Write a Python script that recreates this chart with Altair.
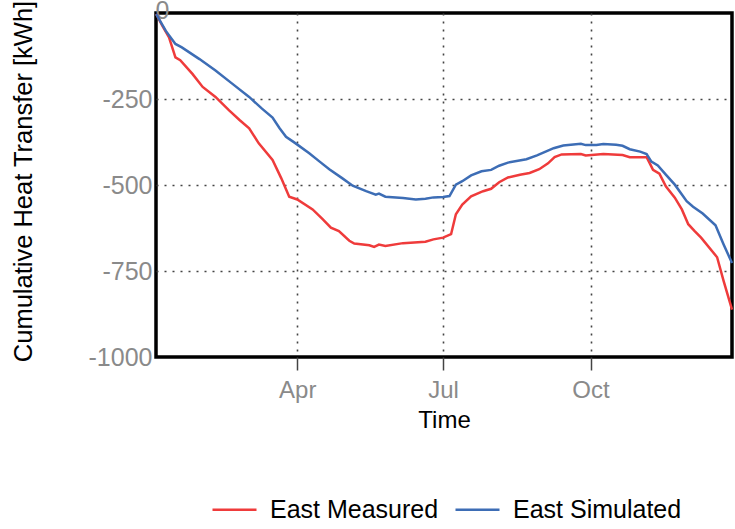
import altair as alt
import pandas as pd

# Day-of-year offsets (from 1 Jan) and cumulative heat transfer in kWh
measured_day = [2, 5.8, 10, 14, 17, 24.6, 31, 39, 47.5, 54, 60, 66, 74.6, 80, 85,
                90, 99.6, 106, 111, 116, 122.5, 125.6, 135, 138, 141, 145, 156, 170,
                175, 181, 186, 189, 193, 198.5, 206, 211, 216, 221.5, 229, 235, 241,
                246.5, 250.6, 255, 267, 270, 281, 293, 297.5, 308, 310, 312, 316, 320,
                325.6, 330, 334, 338, 342, 352, 356, 361.3]
measured_kwh = [-3, -37, -71, -129, -137, -177, -215, -244, -283, -311, -335, -379,
                -427, -480, -534, -542, -571, -600, -624, -634, -662, -670, -675, -680,
                -673, -677, -669, -665, -658, -653, -643, -585, -557, -533, -518, -511,
                -492, -478, -470, -465, -454, -437, -419, -411, -410, -414, -410, -413,
                -419, -419, -437, -456, -467, -504, -537, -571, -614, -634, -653, -710,
                -778, -862]

simulated_day = [2, 8, 14, 18, 29, 39, 49.6, 60, 68, 74.6, 79, 83, 89, 97.5, 104, 110,
                 118, 124.6, 133, 139, 141, 145, 156, 164, 170, 175, 181, 185, 189, 193,
                 198.5, 205, 211, 216, 221.5, 233, 239.6, 245, 250, 256, 267, 270, 276.7,
                 281, 289, 293, 297.5, 304, 308, 311, 315, 320, 325.6, 333, 337, 343, 351,
                 356, 361.3]
simulated_kwh = [-3, -52, -90, -100, -134, -167, -206, -244, -278, -304, -335, -360,
                 -379, -408, -432, -454, -480, -502, -518, -528, -525, -534, -538, -542,
                 -540, -536, -535, -532, -499, -489, -472, -460, -456, -444, -435, -425,
                 -414, -403, -393, -385, -380, -384, -384, -381, -383, -386, -396, -403,
                 -410, -432, -443, -470, -499, -547, -563, -583, -617, -672, -727]

series_names = ["East Measured", "East Simulated"]
series_colors = ["#EF3B3B", "#3D6DB5"]
y_ticks = [0, -250, -500, -750, -1000]
month_ticks = [4, 7, 10]

year_start = pd.Timestamp("2019-01-01")


def series_frame(days, values, name):
    return pd.DataFrame({
        "date": year_start + pd.to_timedelta(days, unit="D"),
        "kwh": values,
        "series": name,
    })


df = pd.concat([
    series_frame(measured_day, measured_kwh, series_names[0]),
    series_frame(simulated_day, simulated_kwh, series_names[1]),
], ignore_index=True)

FONT = "Liberation Sans"
LABEL_GRAY = "#8a8a8a"
GRID_GRAY = "#444444"

x_axis = alt.Axis(
    values=[alt.DateTime(year=2019, month=m, date=1) for m in month_ticks],
    format="%b",
    title="Time",
    grid=True, gridDash=[2, 6], gridColor=GRID_GRAY, gridWidth=1.6,
    domain=False,
    ticks=True, tickSize=13, tickColor=GRID_GRAY, tickWidth=1.5,
    labelFontSize=24, labelColor=LABEL_GRAY, labelPadding=8, labelFont=FONT,
    titleFontSize=24, titleColor="black", titleFontWeight="normal", titleFont=FONT,
    titleY=70, titleBaseline="alphabetic",
)

zero_test = "datum.value == 0"
y_axis = alt.Axis(
    values=y_ticks,
    labelExpr="'' + datum.value",
    title="Cumulative Heat Transfer [kWh]",
    grid=True, gridDash=[2, 6], gridColor=GRID_GRAY, gridWidth=1.6,
    gridOpacity={"condition": {"test": "datum.value == 0 || datum.value == -1000", "value": 0}, "value": 1},
    domain=False, ticks=False, tickSize=0,
    labelFontSize=25, labelColor=LABEL_GRAY, labelFont=FONT,
    labelAlign={"condition": {"test": zero_test, "value": "left"}, "value": "right"},
    labelPadding={"condition": {"test": zero_test, "value": 1}, "value": 4},
    labelOffset={"condition": {"test": zero_test, "value": -3}, "value": 0},
    titleFontSize=25.5, titleColor="black", titleFontWeight="normal", titleFont=FONT,
    titleX=-125, titleY=168, titleBaseline="alphabetic", titleAlign="center",
)

chart = alt.Chart(df).mark_line(strokeWidth=2.5).encode(
    x=alt.X("date:T", axis=x_axis,
            scale=alt.Scale(domain=[alt.DateTime(year=2019, month=1, date=2, hours=21),
                                    alt.DateTime(year=2019, month=12, date=28, hours=7)])),
    y=alt.Y("kwh:Q", axis=y_axis, scale=alt.Scale(domain=[-1000, 0], nice=False)),
    color=alt.Color(
        "series:N",
        scale=alt.Scale(domain=series_names, range=series_colors),
        legend=alt.Legend(
            title=None, orient="none", legendX=55, legendY=473,
            direction="horizontal", symbolType="stroke", symbolSize=1936,
            symbolStrokeWidth=2.5, labelFontSize=25, labelColor="black",
            labelFont=FONT, labelOffset=12, columnPadding=11, padding=0,
            labelLimit=0,
        ),
    ),
    order="date:T",
).properties(
    width=576, height=344,
    autosize=alt.AutoSizeParams(type="none"),
    padding={"left": 156, "top": 13, "right": 3, "bottom": 172},
).configure(font=FONT).configure_view(stroke="black", strokeWidth=3.5)

chart.save("out.html", embed_options={"renderer": "svg", "actions": False})
